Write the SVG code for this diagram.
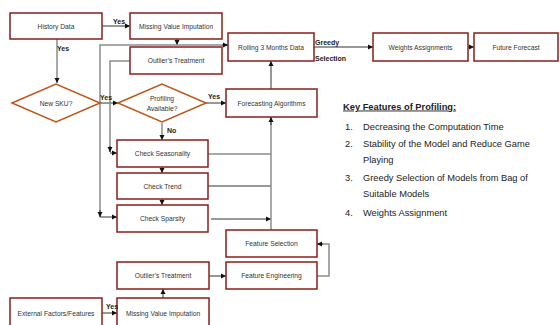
<svg xmlns="http://www.w3.org/2000/svg" width="560" height="325" viewBox="0 0 560 325">
<defs>
<marker id="ah" markerWidth="6" markerHeight="6" refX="5" refY="3" orient="auto" markerUnits="userSpaceOnUse">
<path d="M0,0.5 L5,3 L0,5.5 Z" fill="#111"/>
</marker>
<style>
.box{fill:#fff;stroke:#8B1E1A;stroke-width:1.5}
.dia{fill:#fff;stroke:#C0561B;stroke-width:1.5}
.t{font-family:"Liberation Sans",Arial,sans-serif;font-size:6.7px;fill:#333;text-anchor:middle;dominant-baseline:central}
.lbl{font-family:"Liberation Sans",Arial,sans-serif;font-size:7px;font-weight:bold;fill:#222}
.g{fill:none;stroke:#8c8c8c;stroke-width:1.5}
.k{fill:none;stroke:#333;stroke-width:1}
.kf{font-family:"Liberation Sans",Arial,sans-serif;font-size:9.3px;fill:#222}
</style>
</defs>
<rect width="560" height="325" fill="#fff"/>

<g id="connectors">
<line class="k" x1="102" y1="26" x2="130" y2="26" marker-end="url(#ah)"/>
<line class="g" x1="57" y1="39" x2="57" y2="83" marker-end="url(#ah)"/>
<line class="k" x1="100" y1="103" x2="118" y2="103" marker-end="url(#ah)"/>
<line class="k" x1="206" y1="103" x2="226" y2="103" marker-end="url(#ah)"/>
<line class="g" x1="162" y1="123" x2="162" y2="140" marker-end="url(#ah)"/>
<line class="k" x1="177" y1="39" x2="177" y2="45" marker-end="url(#ah)"/>
<polyline class="g" points="100,217 100,45 228,45"/>
<line class="k" x1="222" y1="45" x2="228" y2="45" marker-end="url(#ah)"/>
<line class="k" x1="100" y1="210" x2="100" y2="217" marker-end="url(#ah)"/>
<line class="k" x1="100" y1="217" x2="117" y2="217" marker-end="url(#ah)"/>
<polyline class="g" points="130,61 110,61 110,152"/>
<line class="k" x1="110" y1="146" x2="110" y2="152" marker-end="url(#ah)"/>
<line class="k" x1="110" y1="153" x2="117" y2="153" marker-end="url(#ah)"/>
<line class="k" x1="162" y1="167" x2="162" y2="173" marker-end="url(#ah)"/>
<line class="k" x1="162" y1="199" x2="162" y2="205" marker-end="url(#ah)"/>
<line class="g" x1="208" y1="154" x2="271" y2="154"/>
<line class="k" x1="208" y1="186" x2="271" y2="186"/>
<line class="k" x1="211" y1="219" x2="271" y2="219" marker-end="url(#ah)"/>
<line class="g" x1="271" y1="230" x2="271" y2="117"/>
<line class="k" x1="271" y1="125" x2="271" y2="117" marker-end="url(#ah)"/>
<line class="k" x1="271" y1="89" x2="271" y2="61" marker-end="url(#ah)"/>
<line class="k" x1="314" y1="47" x2="373" y2="47" marker-end="url(#ah)"/>
<line class="k" x1="468" y1="47" x2="474" y2="47" marker-end="url(#ah)"/>
<line class="k" x1="209" y1="276" x2="226" y2="276" marker-end="url(#ah)"/>
<polyline class="g" points="317,276 329,276 329,244 317,244"/>
<line class="k" x1="323" y1="244" x2="317" y2="244" marker-end="url(#ah)"/>
<line class="k" x1="163" y1="298" x2="163" y2="289" marker-end="url(#ah)"/>
<line class="k" x1="102" y1="313" x2="117" y2="313" marker-end="url(#ah)"/>
</g>

<g id="history"><rect class="box" x="10" y="13" width="92" height="26"/><text class="t" x="56" y="26">History Data</text></g>
<g id="mvi-top"><rect class="box" x="130" y="13" width="92" height="26"/><text class="t" x="176" y="26">Missing Value Imputation</text></g>
<g id="outlier-top"><rect class="box" x="130" y="47" width="92" height="27"/><text class="t" x="176" y="60.5">Outlier’s Treatment</text></g>
<g id="rolling"><rect class="box" x="228" y="33" width="86" height="28"/><text class="t" x="271" y="47">Rolling 3 Months Data</text></g>
<g id="weights"><rect class="box" x="373" y="33" width="95" height="28"/><text class="t" x="420.5" y="47">Weights Assignments</text></g>
<g id="future"><rect class="box" x="474" y="33" width="84" height="28"/><text class="t" x="516" y="47">Future Forecast</text></g>
<g id="newsku"><polygon class="dia" points="12,103 56,84 100,103 56,122"/><text class="t" x="56" y="103">New SKU?</text></g>
<g id="profiling"><polygon class="dia" points="118,103 162,84 206,103 162,122"/><text class="t" x="162" y="98">Profiling</text><text class="t" x="162" y="108">Available?</text></g>
<g id="forecasting"><rect class="box" x="226" y="89" width="91" height="28"/><text class="t" x="271.5" y="103">Forecasting Algorithms</text></g>
<g id="seasonality"><rect class="box" x="117" y="140" width="91" height="27"/><text class="t" x="162.5" y="153.5">Check Seasonality</text></g>
<g id="trend"><rect class="box" x="117" y="173" width="91" height="26"/><text class="t" x="162.5" y="186">Check Trend</text></g>
<g id="sparsity"><rect class="box" x="117" y="205" width="91" height="27"/><text class="t" x="162.5" y="218.5">Check Sparsity</text></g>
<g id="fselection"><rect class="box" x="226" y="230" width="91" height="27"/><text class="t" x="271.5" y="243.5">Feature Selection</text></g>
<g id="outlier-bottom"><rect class="box" x="117" y="262" width="92" height="27"/><text class="t" x="163" y="275.5">Outlier’s Treatment</text></g>
<g id="fengineering"><rect class="box" x="226" y="262" width="91" height="27"/><text class="t" x="271.5" y="275.5">Feature Engineering</text></g>
<g id="external"><rect class="box" x="10" y="298" width="92" height="28"/><text class="t" x="56" y="313">External Factors/Features</text></g>
<g id="mvi-bottom"><rect class="box" x="117" y="298" width="92" height="28"/><text class="t" x="163" y="313">Missing Value Imputation</text></g>

<g id="labels">
<text class="lbl" x="113" y="23.5">Yes</text>
<text class="lbl" x="57" y="50.5">Yes</text>
<text class="lbl" x="100" y="99.5">Yes</text>
<text class="lbl" x="208" y="98.5">Yes</text>
<text class="lbl" x="167" y="132.5">No</text>
<text class="lbl" x="106" y="308.5">Yes</text>
<text class="lbl" x="315" y="44.5">Greedy</text>
<text class="lbl" x="315" y="60.5">Selection</text>
</g>

<g id="key-features">
<text class="kf" x="343" y="109.5" font-size="9.6px" font-weight="bold" text-decoration="underline">Key Features of Profiling:</text>
<text class="kf" x="345" y="129.5">1.</text><text class="kf" x="363" y="129.5">Decreasing the Computation Time</text>
<text class="kf" x="345" y="147">2.</text><text class="kf" x="363" y="147">Stability of the Model and Reduce Game</text>
<text class="kf" x="363" y="163">Playing</text>
<text class="kf" x="345" y="181">3.</text><text class="kf" x="363" y="181">Greedy Selection of Models from Bag of</text>
<text class="kf" x="363" y="197">Suitable Models</text>
<text class="kf" x="345" y="216">4.</text><text class="kf" x="363" y="216">Weights Assignment</text>
</g>
</svg>
